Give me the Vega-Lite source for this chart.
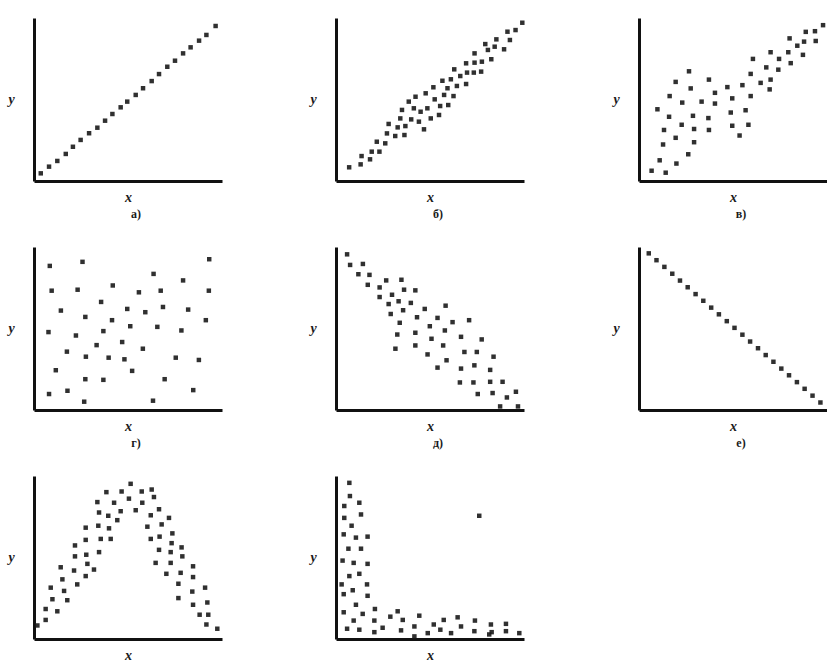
{
  "$schema": "https://vega.github.io/schema/vega-lite/v6.json",
  "padding": {"left": 7, "top": 18, "right": 0, "bottom": 0},
  "background": "white",
  "datasets": {
    "a": [
      {"x": 3.6, "y": 4.7}, {"x": 8.0, "y": 8.8}, {"x": 12.4, "y": 12.3}, {"x": 16.9, "y": 16.6},
      {"x": 20.7, "y": 21.0}, {"x": 24.8, "y": 25.2}, {"x": 29.3, "y": 29.3}, {"x": 33.7, "y": 32.7},
      {"x": 37.8, "y": 37.0}, {"x": 41.7, "y": 41.1}, {"x": 46.1, "y": 45.2}, {"x": 49.6, "y": 48.7},
      {"x": 54.1, "y": 52.8}, {"x": 58.0, "y": 56.9}, {"x": 62.6, "y": 61.3}, {"x": 66.5, "y": 65.6},
      {"x": 70.9, "y": 70.1}, {"x": 75.0, "y": 73.8}, {"x": 79.3, "y": 78.3}, {"x": 83.3, "y": 82.0},
      {"x": 87.8, "y": 86.1}, {"x": 91.7, "y": 89.6}, {"x": 96.6, "y": 95.1}
    ],
    "b": [
      {"x": 7.0, "y": 8.4}, {"x": 13.1, "y": 10.2}, {"x": 13.6, "y": 15.3}, {"x": 18.1, "y": 13.3},
      {"x": 19.0, "y": 18.0}, {"x": 23.1, "y": 18.0}, {"x": 21.7, "y": 24.1}, {"x": 26.2, "y": 23.1},
      {"x": 27.1, "y": 29.2}, {"x": 28.0, "y": 35.0}, {"x": 31.5, "y": 27.6}, {"x": 32.8, "y": 32.9},
      {"x": 34.2, "y": 38.4}, {"x": 36.4, "y": 28.2}, {"x": 36.9, "y": 33.7}, {"x": 35.1, "y": 43.6},
      {"x": 38.7, "y": 48.7}, {"x": 40.0, "y": 37.8}, {"x": 41.4, "y": 44.6}, {"x": 42.3, "y": 51.7},
      {"x": 44.1, "y": 36.4}, {"x": 45.0, "y": 42.5}, {"x": 46.8, "y": 31.7}, {"x": 47.7, "y": 53.8},
      {"x": 48.6, "y": 44.6}, {"x": 50.4, "y": 38.4}, {"x": 51.8, "y": 57.5}, {"x": 52.5, "y": 50.1},
      {"x": 54.8, "y": 40.5}, {"x": 55.4, "y": 46.0}, {"x": 56.6, "y": 61.5}, {"x": 57.5, "y": 52.8},
      {"x": 59.3, "y": 56.9}, {"x": 59.7, "y": 46.6}, {"x": 61.1, "y": 62.4}, {"x": 62.5, "y": 52.1},
      {"x": 64.3, "y": 58.3}, {"x": 62.9, "y": 68.5}, {"x": 66.1, "y": 64.4}, {"x": 69.2, "y": 59.5},
      {"x": 69.2, "y": 72.2}, {"x": 69.7, "y": 66.5}, {"x": 73.7, "y": 78.3}, {"x": 73.7, "y": 72.6},
      {"x": 73.3, "y": 66.5}, {"x": 77.2, "y": 67.1}, {"x": 77.6, "y": 73.2}, {"x": 79.4, "y": 84.0},
      {"x": 80.8, "y": 80.4}, {"x": 82.6, "y": 74.7}, {"x": 84.4, "y": 82.4}, {"x": 85.3, "y": 86.9},
      {"x": 89.4, "y": 80.8}, {"x": 91.2, "y": 91.6}, {"x": 92.5, "y": 86.5}, {"x": 95.5, "y": 92.6},
      {"x": 99.1, "y": 97.1}
    ],
    "c": [
      {"x": 6.7, "y": 6.3}, {"x": 14.2, "y": 5.1}, {"x": 11.0, "y": 12.7}, {"x": 12.8, "y": 22.4},
      {"x": 13.3, "y": 31.3}, {"x": 9.8, "y": 44.0}, {"x": 16.0, "y": 39.4}, {"x": 16.3, "y": 52.1},
      {"x": 19.5, "y": 60.8}, {"x": 19.5, "y": 26.5}, {"x": 19.9, "y": 10.7}, {"x": 23.0, "y": 48.1},
      {"x": 22.7, "y": 34.5}, {"x": 26.6, "y": 67.3}, {"x": 27.5, "y": 56.8}, {"x": 28.7, "y": 40.0},
      {"x": 29.3, "y": 31.9}, {"x": 29.3, "y": 23.8}, {"x": 26.2, "y": 16.4}, {"x": 33.3, "y": 48.7},
      {"x": 36.9, "y": 38.6}, {"x": 37.2, "y": 31.3}, {"x": 37.2, "y": 62.2}, {"x": 40.4, "y": 54.1},
      {"x": 40.4, "y": 47.5}, {"x": 47.0, "y": 57.6}, {"x": 48.8, "y": 42.0}, {"x": 49.6, "y": 50.7},
      {"x": 49.6, "y": 33.9}, {"x": 53.5, "y": 27.9}, {"x": 55.0, "y": 58.8}, {"x": 56.7, "y": 43.4},
      {"x": 58.2, "y": 34.5}, {"x": 59.4, "y": 65.7}, {"x": 59.4, "y": 52.1}, {"x": 60.6, "y": 74.9},
      {"x": 64.7, "y": 60.2}, {"x": 67.7, "y": 69.7}, {"x": 70.0, "y": 62.2}, {"x": 69.5, "y": 56.2},
      {"x": 70.0, "y": 79.0}, {"x": 74.5, "y": 74.9}, {"x": 74.1, "y": 68.3}, {"x": 79.4, "y": 79.0},
      {"x": 80.1, "y": 87.5}, {"x": 80.7, "y": 72.3}, {"x": 84.2, "y": 83.0}, {"x": 87.8, "y": 85.5},
      {"x": 87.2, "y": 77.4}, {"x": 88.7, "y": 91.5}, {"x": 93.6, "y": 91.9}, {"x": 94.0, "y": 85.9},
      {"x": 97.9, "y": 95.6}
    ],
    "d": [
      {"x": 8.4, "y": 88.4}, {"x": 25.8, "y": 90.9}, {"x": 93.2, "y": 92.5}, {"x": 63.6, "y": 83.5},
      {"x": 79.3, "y": 79.5}, {"x": 9.4, "y": 73.2}, {"x": 23.2, "y": 73.8}, {"x": 41.9, "y": 76.4},
      {"x": 55.8, "y": 72.2}, {"x": 67.4, "y": 73.2}, {"x": 93.0, "y": 73.2}, {"x": 35.7, "y": 66.3},
      {"x": 14.3, "y": 61.0}, {"x": 49.6, "y": 62.0}, {"x": 59.2, "y": 60.0}, {"x": 68.6, "y": 63.2},
      {"x": 82.0, "y": 61.6}, {"x": 27.3, "y": 57.1}, {"x": 41.5, "y": 55.1}, {"x": 91.4, "y": 55.1},
      {"x": 7.7, "y": 47.8}, {"x": 22.3, "y": 45.7}, {"x": 36.9, "y": 48.4}, {"x": 51.2, "y": 51.4},
      {"x": 65.6, "y": 51.0}, {"x": 78.4, "y": 48.8}, {"x": 33.3, "y": 39.8}, {"x": 46.9, "y": 41.7},
      {"x": 57.9, "y": 37.6}, {"x": 17.5, "y": 35.8}, {"x": 27.6, "y": 32.7}, {"x": 39.7, "y": 32.1},
      {"x": 48.1, "y": 31.1}, {"x": 75.4, "y": 32.1}, {"x": 87.7, "y": 30.7}, {"x": 11.6, "y": 24.4},
      {"x": 52.2, "y": 24.0}, {"x": 27.3, "y": 18.9}, {"x": 36.9, "y": 18.5}, {"x": 69.5, "y": 18.9},
      {"x": 8.0, "y": 9.8}, {"x": 17.8, "y": 11.8}, {"x": 84.7, "y": 12.2}, {"x": 26.7, "y": 5.1},
      {"x": 63.3, "y": 5.7}
    ],
    "e": [
      {"x": 5.9, "y": 95.5}, {"x": 7.5, "y": 89.0}, {"x": 14.3, "y": 89.6}, {"x": 11.9, "y": 83.3},
      {"x": 17.8, "y": 82.9}, {"x": 16.9, "y": 76.8}, {"x": 23.2, "y": 75.2}, {"x": 26.7, "y": 79.5},
      {"x": 34.8, "y": 79.9}, {"x": 23.2, "y": 69.3}, {"x": 29.8, "y": 70.7}, {"x": 36.2, "y": 73.8},
      {"x": 42.2, "y": 73.4}, {"x": 28.0, "y": 65.0}, {"x": 33.3, "y": 66.7}, {"x": 39.8, "y": 65.7},
      {"x": 29.1, "y": 58.9}, {"x": 35.7, "y": 61.2}, {"x": 47.2, "y": 62.0}, {"x": 58.3, "y": 64.0},
      {"x": 33.9, "y": 53.5}, {"x": 43.1, "y": 56.9}, {"x": 54.0, "y": 56.5}, {"x": 62.0, "y": 53.9},
      {"x": 70.8, "y": 55.1}, {"x": 32.6, "y": 46.3}, {"x": 42.2, "y": 47.4}, {"x": 49.9, "y": 51.4},
      {"x": 57.9, "y": 48.8}, {"x": 66.5, "y": 44.9}, {"x": 77.5, "y": 43.3}, {"x": 31.6, "y": 37.6},
      {"x": 42.2, "y": 39.6}, {"x": 50.8, "y": 43.7}, {"x": 57.0, "y": 39.6}, {"x": 68.3, "y": 35.6},
      {"x": 74.9, "y": 35.6}, {"x": 48.7, "y": 34.1}, {"x": 58.8, "y": 30.5}, {"x": 83.8, "y": 32.7},
      {"x": 54.0, "y": 26.0}, {"x": 66.5, "y": 25.4}, {"x": 73.6, "y": 27.4}, {"x": 82.0, "y": 24.6},
      {"x": 65.9, "y": 16.9}, {"x": 73.1, "y": 16.9}, {"x": 82.0, "y": 17.3}, {"x": 88.6, "y": 17.3},
      {"x": 75.4, "y": 9.8}, {"x": 83.3, "y": 10.4}, {"x": 90.9, "y": 7.7}, {"x": 95.7, "y": 11.2},
      {"x": 87.3, "y": 2.2}, {"x": 96.8, "y": 2.2}
    ],
    "f": [
      {"x": 5.2, "y": 96.1}, {"x": 9.3, "y": 91.9}, {"x": 13.5, "y": 87.8}, {"x": 17.7, "y": 83.6},
      {"x": 21.8, "y": 79.4}, {"x": 25.9, "y": 75.3}, {"x": 30.1, "y": 71.1}, {"x": 34.2, "y": 67.0},
      {"x": 38.4, "y": 62.8}, {"x": 42.5, "y": 58.7}, {"x": 46.7, "y": 54.5}, {"x": 50.8, "y": 50.4},
      {"x": 55.0, "y": 46.2}, {"x": 59.1, "y": 42.0}, {"x": 63.3, "y": 37.9}, {"x": 67.4, "y": 33.7},
      {"x": 71.5, "y": 29.6}, {"x": 75.7, "y": 25.4}, {"x": 79.8, "y": 21.3}, {"x": 84.0, "y": 17.1},
      {"x": 88.1, "y": 13.0}, {"x": 92.3, "y": 8.8}, {"x": 96.5, "y": 4.6}
    ],
    "g": [
      {"x": 1.8, "y": 8.3}, {"x": 6.2, "y": 11.7}, {"x": 6.2, "y": 18.4}, {"x": 9.8, "y": 24.4},
      {"x": 8.9, "y": 31.5}, {"x": 12.4, "y": 17.0}, {"x": 17.7, "y": 23.8}, {"x": 16.0, "y": 29.5},
      {"x": 15.1, "y": 36.6}, {"x": 14.2, "y": 44.0}, {"x": 23.0, "y": 33.5}, {"x": 21.3, "y": 42.0},
      {"x": 21.8, "y": 50.7}, {"x": 21.8, "y": 57.4}, {"x": 27.5, "y": 38.6}, {"x": 28.4, "y": 46.1},
      {"x": 27.8, "y": 51.7}, {"x": 31.9, "y": 42.6}, {"x": 27.5, "y": 60.8}, {"x": 27.5, "y": 68.3},
      {"x": 34.2, "y": 69.5}, {"x": 34.6, "y": 53.3}, {"x": 35.5, "y": 61.4}, {"x": 40.8, "y": 61.4},
      {"x": 39.9, "y": 67.9}, {"x": 34.6, "y": 77.6}, {"x": 33.7, "y": 84.0}, {"x": 39.5, "y": 75.6},
      {"x": 42.6, "y": 83.6}, {"x": 38.5, "y": 90.1}, {"x": 44.3, "y": 72.9}, {"x": 46.1, "y": 78.4},
      {"x": 46.6, "y": 90.5}, {"x": 50.5, "y": 86.1}, {"x": 51.4, "y": 95.2}, {"x": 54.1, "y": 79.0},
      {"x": 57.6, "y": 83.6}, {"x": 57.3, "y": 90.5}, {"x": 62.6, "y": 91.7}, {"x": 63.8, "y": 87.1},
      {"x": 62.1, "y": 75.9}, {"x": 66.5, "y": 79.6}, {"x": 71.8, "y": 74.3}, {"x": 60.3, "y": 68.9},
      {"x": 67.9, "y": 70.3}, {"x": 62.1, "y": 61.4}, {"x": 66.8, "y": 62.8}, {"x": 73.6, "y": 64.8},
      {"x": 73.2, "y": 58.8}, {"x": 66.5, "y": 54.7}, {"x": 72.7, "y": 53.3}, {"x": 78.5, "y": 56.2},
      {"x": 78.9, "y": 50.7}, {"x": 64.7, "y": 46.7}, {"x": 72.7, "y": 46.7}, {"x": 70.4, "y": 40.0},
      {"x": 78.0, "y": 40.6}, {"x": 84.6, "y": 44.6}, {"x": 76.8, "y": 33.9}, {"x": 84.6, "y": 38.0},
      {"x": 84.2, "y": 29.1}, {"x": 91.0, "y": 31.5}, {"x": 76.8, "y": 25.1}, {"x": 84.6, "y": 21.0},
      {"x": 92.2, "y": 22.4}, {"x": 88.1, "y": 14.9}, {"x": 92.7, "y": 14.9}, {"x": 91.7, "y": 8.9},
      {"x": 97.5, "y": 6.3}
    ],
    "h": [
      {"x": 7.1, "y": 95.8}, {"x": 7.4, "y": 87.7}, {"x": 12.4, "y": 83.6}, {"x": 4.4, "y": 81.6},
      {"x": 13.3, "y": 76.4}, {"x": 4.4, "y": 74.3}, {"x": 8.3, "y": 69.5}, {"x": 4.1, "y": 64.2},
      {"x": 10.6, "y": 62.2}, {"x": 16.8, "y": 62.8}, {"x": 6.6, "y": 55.4}, {"x": 13.3, "y": 55.4},
      {"x": 3.5, "y": 48.1}, {"x": 9.4, "y": 46.7}, {"x": 16.8, "y": 46.1}, {"x": 7.1, "y": 38.6},
      {"x": 12.4, "y": 40.0}, {"x": 3.0, "y": 33.5}, {"x": 16.5, "y": 33.5}, {"x": 4.1, "y": 27.5},
      {"x": 8.9, "y": 29.9}, {"x": 16.8, "y": 26.5}, {"x": 10.6, "y": 21.0}, {"x": 20.7, "y": 18.4},
      {"x": 4.1, "y": 16.4}, {"x": 14.2, "y": 15.4}, {"x": 9.4, "y": 11.3}, {"x": 20.4, "y": 11.3},
      {"x": 28.9, "y": 13.7}, {"x": 32.8, "y": 17.0}, {"x": 35.5, "y": 11.7}, {"x": 5.9, "y": 6.3},
      {"x": 12.4, "y": 5.7}, {"x": 20.4, "y": 4.2}, {"x": 24.8, "y": 6.9}, {"x": 34.6, "y": 5.3},
      {"x": 41.7, "y": 7.7}, {"x": 44.3, "y": 14.3}, {"x": 41.7, "y": 1.6}, {"x": 48.8, "y": 3.6},
      {"x": 52.0, "y": 8.9}, {"x": 55.5, "y": 5.7}, {"x": 57.3, "y": 11.7}, {"x": 61.2, "y": 3.6},
      {"x": 64.7, "y": 13.3}, {"x": 66.5, "y": 7.7}, {"x": 73.9, "y": 11.3}, {"x": 73.6, "y": 4.8},
      {"x": 82.4, "y": 8.9}, {"x": 82.8, "y": 4.2}, {"x": 90.4, "y": 9.3}, {"x": 90.4, "y": 4.8},
      {"x": 97.5, "y": 3.6}, {"x": 81.5, "y": 2.8}, {"x": 76.2, "y": 75.6}
    ]
  },
  "config": {
    "view": {"stroke": null},
    "axis": {
      "domainColor": "#111111",
      "domainWidth": 3,
      "ticks": false,
      "labels": false,
      "grid": false,
      "titleFont": "Liberation Serif",
      "titleFontStyle": "italic",
      "titleFontWeight": "bold",
      "titleFontSize": 14,
      "titleColor": "#1a1a1a"
    },
    "axisY": {"titleAngle": 0, "titlePadding": 23, "titleBaseline": "middle", "titleAlign": "center"},
    "axisX": {"titlePadding": 9},
    "title": {"orient": "bottom", "font": "Liberation Serif", "fontSize": 12, "fontWeight": "bold", "color": "#1a1a1a", "offset": 5, "anchor": "middle", "dx": 8},
    "point": {"shape": "square", "filled": true, "size": 20, "color": "#1a1a1a", "opacity": 0.9}
  },
  "columns": 3,
  "spacing": {"row": 27, "column": 87},
  "concat": [
    {"data": {"name": "a"}, "title": "а)", "width": 188, "height": 163, "mark": "point",
     "encoding": {"x": {"field": "x", "type": "quantitative", "scale": {"domain": [0, 100], "nice": false}, "title": "x"},
                  "y": {"field": "y", "type": "quantitative", "scale": {"domain": [0, 100], "nice": false}, "title": "y"}}},
    {"data": {"name": "b"}, "title": "б)", "width": 188, "height": 163, "mark": "point",
     "encoding": {"x": {"field": "x", "type": "quantitative", "scale": {"domain": [0, 100], "nice": false}, "title": "x"},
                  "y": {"field": "y", "type": "quantitative", "scale": {"domain": [0, 100], "nice": false}, "title": "y"}}},
    {"data": {"name": "c"}, "title": "в)", "width": 188, "height": 163, "mark": "point",
     "encoding": {"x": {"field": "x", "type": "quantitative", "scale": {"domain": [0, 100], "nice": false}, "title": "x"},
                  "y": {"field": "y", "type": "quantitative", "scale": {"domain": [0, 100], "nice": false}, "title": "y"}}},
    {"data": {"name": "d"}, "title": "г)", "width": 188, "height": 163, "mark": "point",
     "encoding": {"x": {"field": "x", "type": "quantitative", "scale": {"domain": [0, 100], "nice": false}, "title": "x"},
                  "y": {"field": "y", "type": "quantitative", "scale": {"domain": [0, 100], "nice": false}, "title": "y"}}},
    {"data": {"name": "e"}, "title": "д)", "width": 188, "height": 163, "mark": "point",
     "encoding": {"x": {"field": "x", "type": "quantitative", "scale": {"domain": [0, 100], "nice": false}, "title": "x"},
                  "y": {"field": "y", "type": "quantitative", "scale": {"domain": [0, 100], "nice": false}, "title": "y"}}},
    {"data": {"name": "f"}, "title": "е)", "width": 188, "height": 163, "mark": "point",
     "encoding": {"x": {"field": "x", "type": "quantitative", "scale": {"domain": [0, 100], "nice": false}, "title": "x"},
                  "y": {"field": "y", "type": "quantitative", "scale": {"domain": [0, 100], "nice": false}, "title": "y"}}},
    {"data": {"name": "g"}, "width": 188, "height": 163, "mark": "point",
     "encoding": {"x": {"field": "x", "type": "quantitative", "scale": {"domain": [0, 100], "nice": false}, "title": "x"},
                  "y": {"field": "y", "type": "quantitative", "scale": {"domain": [0, 100], "nice": false}, "title": "y"}}},
    {"data": {"name": "h"}, "width": 188, "height": 163, "mark": "point",
     "encoding": {"x": {"field": "x", "type": "quantitative", "scale": {"domain": [0, 100], "nice": false}, "title": "x"},
                  "y": {"field": "y", "type": "quantitative", "scale": {"domain": [0, 100], "nice": false}, "title": "y"}}}
  ]
}
